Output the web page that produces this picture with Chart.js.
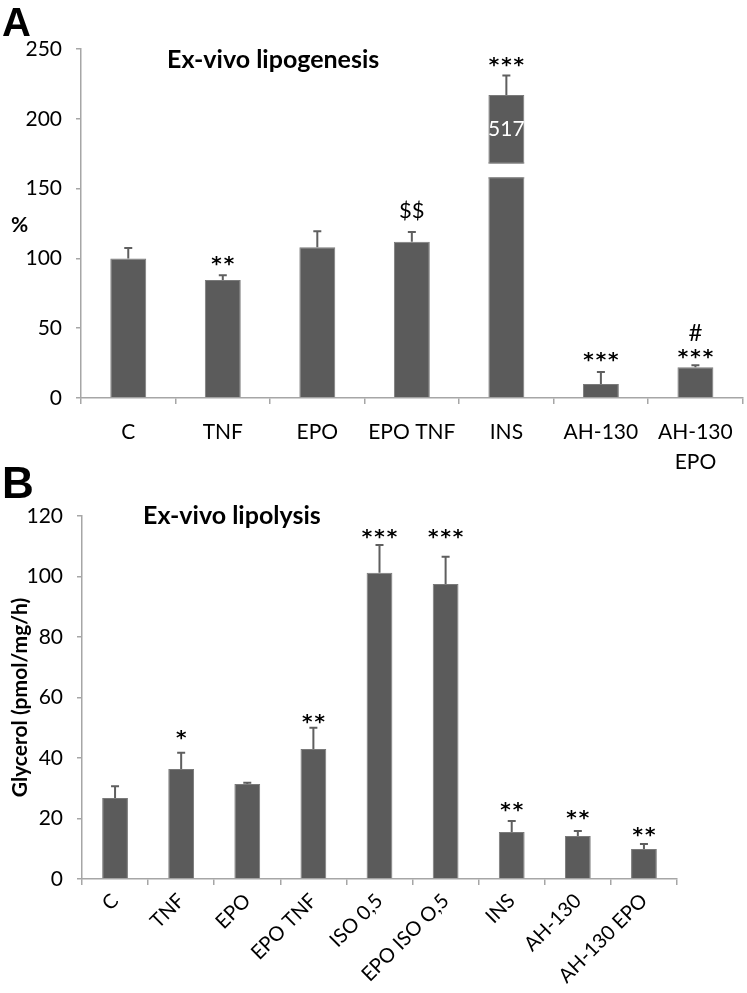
<!DOCTYPE html>
<html>
<head>
<meta charset="utf-8">
<script src="https://cdn.jsdelivr.net/npm/chart.js@4.4.1/dist/chart.umd.min.js"></script>
<style>
  html, body { margin: 0; padding: 0; background: #fff; }
  body { width: 747px; height: 993px; position: relative; overflow: hidden; }
  .panel { position: absolute; left: 0; width: 747px; }
  #wrapA { top: 0; height: 480px; }
  #wrapB { top: 460px; height: 533px; }
</style>
</head>
<body>
<div class="panel" id="wrapA"><canvas id="chartA"></canvas></div>
<div class="panel" id="wrapB"><canvas id="chartB"></canvas></div>
<script>
// Panel A - ex-vivo lipogenesis (%)
const catsA = ['C', 'TNF', 'EPO', 'EPO TNF', 'INS', 'AH-130', ['AH-130', 'EPO']];
const valsA = [100, 84.5, 108, 112, 217, 10, 22];
const errA = [107.4, 88, 119.5, 119, 231, 18.6, 23.5];
const sigA = ['', '**', '', '$$', '***', '***', '***'];
const sigPosA = [null, 99.6, null, 134.7, 242, 30.8, 33];
const sig2A = ['', '', '', '', '', '', '#'];
const sig2PosA = [null, null, null, null, null, null, 46.6];
const breakA = [158, 168];     // gap drawn in the INS bar
const breakIdxA = 4;
const breakLabelA = '517';
const ticksA = { min: 0, max: 250, step: 50 };

// Panel B - ex-vivo lipolysis (glycerol)
const catsB = ['C', 'TNF', 'EPO', 'EPO TNF', 'ISO 0,5', 'EPO ISO O,5', 'INS', 'AH-130', 'AH-130 EPO'];
const valsB = [26.8, 36.4, 31.4, 43, 101.2, 97.5, 15.5, 14.2, 9.9];
const errB = [30.7, 41.7, 31.8, 50, 110.4, 106.5, 19.2, 15.9, 11.6];
const sigB = ['', '*', '', '**', '***', '***', '**', '**', '**'];
const sigPosB = [null, 48.3, null, 53.6, 114.7, 114.7, 24.5, 21.8, 16.2];
const ticksB = { min: 0, max: 120, step: 20 };

const FONT = 'Lato, "Open Sans", sans-serif';
const BAR = '#5b5b5b';
const AXIS = '#a6a6a6';

// error bars (upper only) and significance marks
const errorBars = {
  id: 'errorBars',
  afterDatasetsDraw(chart, args, opts) {
    const { ctx, scales: { y } } = chart;
    const meta = chart.getDatasetMeta(0);
    ctx.save();
    ctx.strokeStyle = '#5f5f5f';
    ctx.lineWidth = 2;
    meta.data.forEach((bar, i) => {
      const top = y.getPixelForValue(opts.err[i]);
      ctx.beginPath();
      ctx.moveTo(bar.x, bar.y);
      ctx.lineTo(bar.x, top);
      ctx.moveTo(bar.x - 4, top);
      ctx.lineTo(bar.x + 4, top);
      ctx.stroke();
    });
    ctx.fillStyle = '#000';
    ctx.textAlign = 'center';
    ctx.textBaseline = 'alphabetic';
    const drawMarks = (marks, pos) => {
      marks.forEach((m, i) => {
        if (!m) return;
        const cy = y.getPixelForValue(pos[i]);
        if (m.indexOf('*') >= 0) {
          ctx.font = 'bold 20px "DejaVu Sans", sans-serif';
          ctx.letterSpacing = '2px';
          ctx.fillText(m, meta.data[i].x + 1, cy + 11);
        } else {
          ctx.font = (m === '#' ? '24px ' : '22px ') + FONT;
          ctx.letterSpacing = '0px';
          ctx.fillText(m, meta.data[i].x, cy + 8);
        }
      });
    };
    drawMarks(opts.sig, opts.sigPos);
    if (opts.sig2) drawMarks(opts.sig2, opts.sig2Pos);
    ctx.restore();
  }
};

// panel letters, titles, axis break
const decor = {
  id: 'decor',
  afterDraw(chart, args, opts) {
    const { ctx, scales: { y } } = chart;
    ctx.save();
    if (opts.breakRange) {
      const bar = chart.getDatasetMeta(0).data[opts.breakIdx];
      const half = bar.width / 2 + 1;
      const yHi = y.getPixelForValue(opts.breakRange[1]);
      const yLo = y.getPixelForValue(opts.breakRange[0]);
      ctx.fillStyle = '#fff';
      ctx.fillRect(bar.x - half, yHi, half * 2, yLo - yHi);
      ctx.strokeStyle = '#8a8a8a';
      ctx.lineWidth = 1;
      ctx.beginPath();
      ctx.moveTo(bar.x - half + 1, yHi - 0.5); ctx.lineTo(bar.x + half - 1, yHi - 0.5);
      ctx.moveTo(bar.x - half + 1, yLo + 0.5); ctx.lineTo(bar.x + half - 1, yLo + 0.5);
      ctx.stroke();
      const topPx = y.getPixelForValue(chart.data.datasets[0].data[opts.breakIdx]);
      ctx.fillStyle = '#fff';
      ctx.font = '21px ' + FONT;
      ctx.textAlign = 'center';
      ctx.textBaseline = 'middle';
      ctx.fillText(opts.breakLabel, bar.x, (topPx + yHi) / 2);
    }
    ctx.fillStyle = '#000';
    ctx.textAlign = 'left';
    ctx.textBaseline = 'alphabetic';
    ctx.font = 'bold ' + opts.letterSize + 'px "Liberation Sans", Arial, sans-serif';
    ctx.fillText(opts.letter, 2, opts.letterY);
    ctx.font = 'bold 25px ' + FONT;
    ctx.fillText(opts.title, opts.titleX, opts.titleY);
    if (opts.unit) {
      ctx.font = 'bold 21px ' + FONT;
      ctx.fillText(opts.unit, 11, opts.unitY);
    }
    ctx.restore();
  }
};

function yScale(t, width, title) {
  return {
    min: t.min, max: t.max,
    afterFit: s => { s.width = width; },
    border: { color: AXIS, width: 1.5 },
    grid: { drawOnChartArea: false, color: AXIS, tickLength: 5, lineWidth: 1.5 },
    ticks: { stepSize: t.step, color: '#000', padding: 14, font: { family: FONT, size: 21 } },
    title: title
  };
}

const charts = {};

charts.a = new Chart(document.getElementById('chartA'), {
  type: 'bar',
  data: {
    labels: catsA,
    datasets: [{
      data: valsA,
      backgroundColor: BAR,
      borderColor: '#7a7a7a',
      borderWidth: 1,
      barPercentage: 0.38,
      categoryPercentage: 1
    }]
  },
  options: {
    responsive: true,
    maintainAspectRatio: false,
    animation: false,
    layout: { padding: { left: 0, right: 4, top: 49, bottom: 0 } },
    plugins: {
      legend: { display: false },
      tooltip: { enabled: false },
      errorBars: { err: errA, sig: sigA, sigPos: sigPosA, sig2: sig2A, sig2Pos: sig2PosA },
      decor: {
        letter: 'A', letterSize: 40, letterY: 36,
        title: 'Ex-vivo lipogenesis', titleX: 167, titleY: 68,
        unit: '%', unitY: 232,
        breakRange: breakA, breakIdx: breakIdxA, breakLabel: breakLabelA
      }
    },
    scales: {
      x: {
        afterFit: s => { s.height = 82; },
        border: { color: AXIS, width: 1.5 },
        grid: { drawOnChartArea: false, color: AXIS, tickLength: 6, lineWidth: 1.5 },
        ticks: { color: '#000', padding: 14, maxRotation: 0, font: { family: FONT, size: 21, lineHeight: 1.4 } }
      },
      y: yScale(ticksA, 81)
    }
  },
  plugins: [errorBars, decor]
});

charts.b = new Chart(document.getElementById('chartB'), {
  type: 'bar',
  data: {
    labels: catsB,
    datasets: [{
      data: valsB,
      backgroundColor: BAR,
      borderColor: '#7a7a7a',
      borderWidth: 1,
      barPercentage: 0.39,
      categoryPercentage: 1
    }]
  },
  options: {
    responsive: true,
    maintainAspectRatio: false,
    animation: false,
    layout: { padding: { left: 0, right: 70, top: 56, bottom: 0 } },
    plugins: {
      legend: { display: false },
      tooltip: { enabled: false },
      errorBars: { err: errB, sig: sigB, sigPos: sigPosB },
      decor: {
        letter: 'B', letterSize: 44, letterY: 38,
        title: 'Ex-vivo lipolysis', titleX: 143, titleY: 64
      }
    },
    scales: {
      x: {
        afterFit: s => { s.height = 114; },
        border: { color: AXIS, width: 1.5 },
        grid: { drawOnChartArea: false, color: AXIS, tickLength: 6, lineWidth: 1.5 },
        ticks: { color: '#000', padding: 4, minRotation: 45, maxRotation: 45, font: { family: FONT, size: 20 } }
      },
      y: yScale(ticksB, 82, {
        display: true, text: 'Glycerol (pmol/mg/h)', color: '#000',
        padding: { top: 8, bottom: 0 }, font: { family: FONT, size: 21, weight: 'bold' }
      })
    }
  },
  plugins: [errorBars, decor]
});
</script>
</body>
</html>
